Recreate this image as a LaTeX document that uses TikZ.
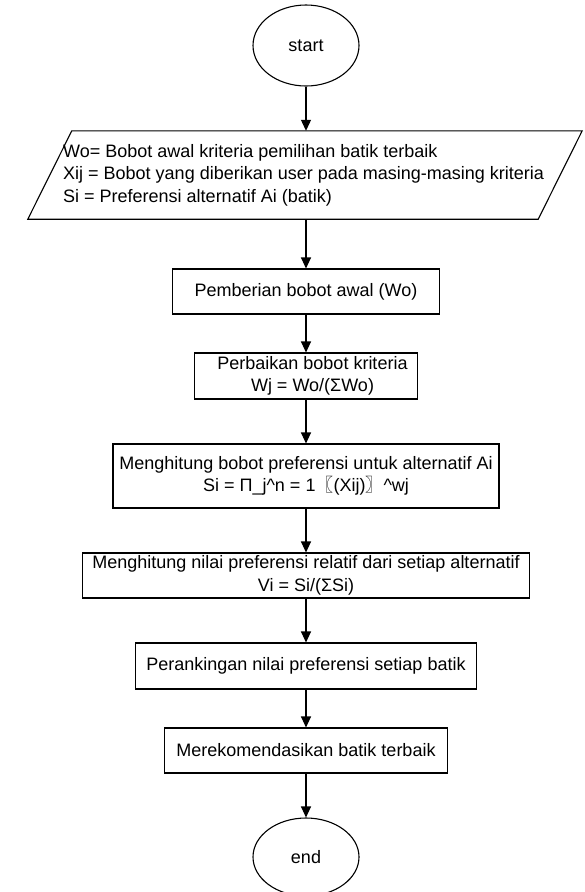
\documentclass[tikz,border=0pt]{standalone}
\usepackage{fontspec}
\setmainfont{Liberation Sans}
\newfontfamily\cjkfont{Noto Sans CJK SC}
\usetikzlibrary{shapes.geometric,arrows.meta}

\begin{document}
\begin{tikzpicture}[x=1pt,y=-1pt,
  every node/.style={font=\fontsize{18}{22.5}\selectfont, text=black},
  terminal/.style={draw=black, line width=1.1pt, ellipse, minimum width=106pt, inner sep=0pt},
  process/.style={draw=black, line width=1.1pt, rectangle, inner sep=0pt, align=center},
  dataframe/.style={rectangle, inner sep=0pt},
  outline/.style={draw=black, line width=1.1pt, line join=miter},
  flow/.style={draw=black, line width=1.1pt, -{Triangle[length=11pt,width=10pt]}}
]
\useasboundingbox (0,0) rectangle (585,892);
\fill[white] (0,0) rectangle (585,892);

% terminals, data and process steps
\node[terminal, minimum height=81pt] (start) at (306,45.5) {start};

% input data: parallelogram slanted 22pt each way around its mid-height box
\node[dataframe, minimum width=510pt, minimum height=88pt] (input) at (305,175) {};
\draw[outline] ([xshift=-22pt]input.south west) -- ([xshift=22pt]input.north west)
  -- ([xshift=22pt]input.north east) -- ([xshift=-22pt]input.south east) -- cycle;
\node[anchor=west, align=left, inner sep=0pt] (inputtext) at (63,175)
  {Wo= Bobot awal kriteria pemilihan batik terbaik\\
   Xij = Bobot yang diberikan user pada masing-masing kriteria\\
   Si = Preferensi alternatif Ai (batik)};

\node[process, minimum width=267pt, minimum height=45pt] (b1) at (306,291.5)
  {Pemberian bobot awal (Wo)};
\node[process, minimum width=223pt, minimum height=46pt] (b2) at (306,376)
  {\hspace*{13pt}Perbaikan bobot kriteria\\\hspace*{13pt}Wj = Wo/(ΣWo)};
\node[process, minimum width=386pt, minimum height=64pt] (b3) at (306,476)
  {Menghitung bobot preferensi untuk alternatif Ai\\
   Si = Π\textunderscore j\textasciicircum n = 1 \hspace{-5pt}{\cjkfont 〖}(Xij){\cjkfont 〗}\hspace{-5pt} \textasciicircum wj};
\node[process, minimum width=447pt, minimum height=45pt] (b4) at (306,575.5)
  {Menghitung nilai preferensi relatif dari setiap alternatif\\Vi = Si/(ΣSi)};
\node[process, minimum width=341pt, minimum height=46pt] (b5) at (306,666)
  {Perankingan nilai preferensi setiap batik};
\node[process, minimum width=283pt, minimum height=45pt] (b6) at (306,750.5)
  {Merekomendasikan batik terbaik};
\node[terminal, minimum height=78pt] (end) at (306,857) {end};

% flow connectors
\draw[flow] (start) -- (start |- input.north);
\draw[flow] (input.south -| b1) -- (b1);
\draw[flow] (b1) -- (b2);
\draw[flow] (b2) -- (b3);
\draw[flow] (b3) -- (b4);
\draw[flow] (b4) -- (b5);
\draw[flow] (b5) -- (b6);
\draw[flow] (b6) -- (end);
\end{tikzpicture}
\end{document}
